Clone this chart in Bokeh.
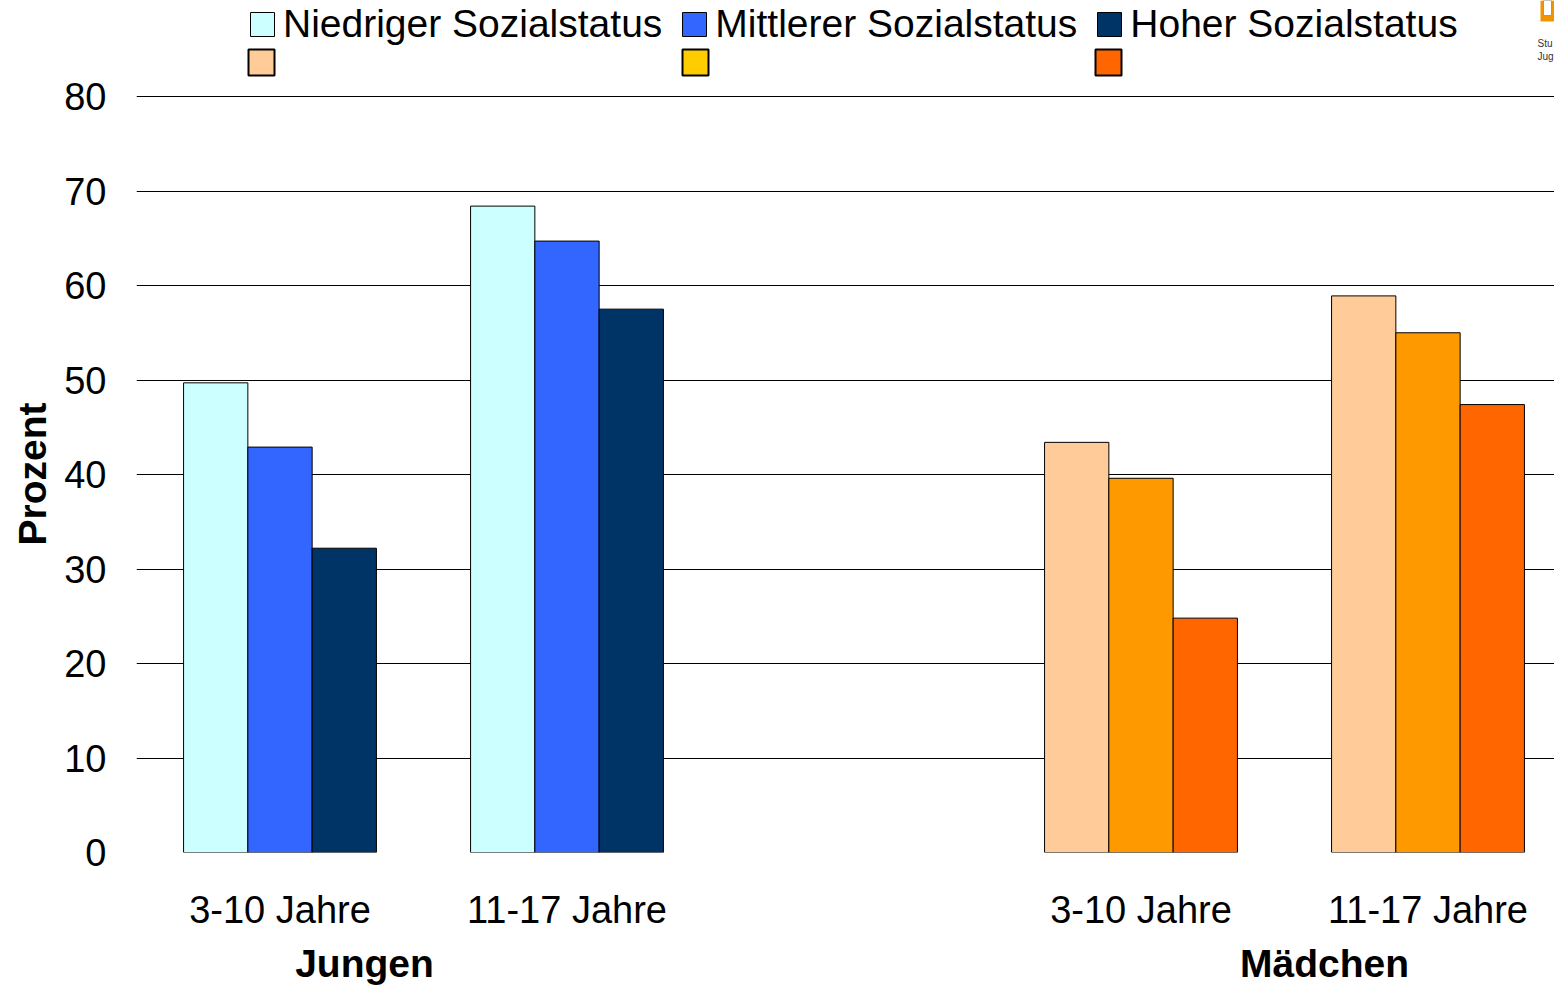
from bokeh.plotting import figure
from bokeh.models import (ColumnDataSource, FixedTicker, Legend, LegendItem, Label,
                          Range1d, LinearAxis, Title)
from bokeh.transform import dodge
from bokeh.embed import file_html
from bokeh.resources import INLINE

# ---------------- data ----------------
age_labels = ["3-10 Jahre", "11-17 Jahre"]
gender_labels = ["Jungen", "Mädchen"]
status_labels = ["Niedriger Sozialstatus", "Mittlerer Sozialstatus", "Hoher Sozialstatus"]

jungen_niedrig = [49.7, 68.4]
jungen_mittel = [42.9, 64.7]
jungen_hoch = [32.2, 57.5]
maedchen_niedrig = [43.4, 58.9]
maedchen_mittel = [39.6, 55.0]
maedchen_hoch = [24.8, 47.4]

jungen_colors = ["#CCFFFF", "#3366FF", "#003366"]
maedchen_colors = ["#FFCC99", "#FF9900", "#FF6600"]
legend_row2_colors = ["#FFCC99", "#FFCC00", "#FF6600"]

y_ticks = [0, 10, 20, 30, 40, 50, 60, 70, 80]

# ---------------- layout ----------------
FONT = "Liberation Sans"
W, H = 1554, 987
FRAME_LEFT, FRAME_BOTTOM = 136, 135
frame_w = W - FRAME_LEFT
frame_h = H - FRAME_BOTTOM
px_per_unit = 9.45
slot_px = 287.0
x_start = -0.5
x_end = x_start + frame_w / slot_px
y_end = frame_h / px_per_unit
bar_w = 0.224


def xd(px):
    return x_start + (px - FRAME_LEFT) / slot_px


def yd(py):
    return (frame_h - py) / px_per_unit


p = figure(width=W, height=H, x_range=Range1d(x_start, x_end), y_range=Range1d(0, y_end),
           min_border_left=FRAME_LEFT, min_border_right=0, min_border_top=0,
           min_border_bottom=FRAME_BOTTOM, toolbar_location=None, output_backend="svg")
p.outline_line_color = None
p.background_fill_color = "white"
p.border_fill_color = "white"

# slot positions: gender groups separated by one empty slot
jungen_x = [0 * 3 + a for a in range(len(age_labels))]
maedchen_x = [1 * 3 + a for a in range(len(age_labels))]

jungen_series = [jungen_niedrig, jungen_mittel, jungen_hoch]
maedchen_series = [maedchen_niedrig, maedchen_mittel, maedchen_hoch]
offsets = [-bar_w, 0.0, bar_w]

boy_renderers = []
for i in range(3):
    src = ColumnDataSource(dict(x=jungen_x, top=jungen_series[i]))
    r = p.vbar(x=dodge("x", offsets[i], range=p.x_range), top="top", width=bar_w, source=src,
               fill_color=jungen_colors[i], line_color="black", line_width=1)
    boy_renderers.append(r)
for i in range(3):
    src = ColumnDataSource(dict(x=maedchen_x, top=maedchen_series[i]))
    p.vbar(x=dodge("x", offsets[i], range=p.x_range), top="top", width=bar_w, source=src,
           fill_color=maedchen_colors[i], line_color="black", line_width=1)

# ---------------- axes & grid ----------------
p.xgrid.visible = False
p.ygrid.ticker = FixedTicker(ticks=y_ticks)
p.ygrid.grid_line_color = "black"
p.ygrid.grid_line_width = 1

p.yaxis.ticker = FixedTicker(ticks=y_ticks)
p.yaxis.axis_line_color = None
p.yaxis.major_tick_line_color = None
p.yaxis.minor_tick_line_color = None
p.yaxis.major_tick_in = 0
p.yaxis.major_tick_out = 0
p.yaxis.major_label_standoff = 30
p.yaxis.major_label_text_font = FONT
p.yaxis.major_label_text_font_size = "38px"
p.yaxis.major_label_text_color = "black"

all_x = jungen_x + maedchen_x
p.xaxis.ticker = FixedTicker(ticks=all_x)
p.xaxis.major_label_overrides = {float(x): age_labels[k % 2] for k, x in enumerate(all_x)}
for ax in [p.xaxis[0]]:
    ax.axis_line_color = None
    ax.major_tick_line_color = None
    ax.minor_tick_line_color = None
    ax.major_tick_in = 0
    ax.major_tick_out = 0
    ax.major_label_standoff = 36
    ax.major_label_text_font = FONT
    ax.major_label_text_font_size = "38px"
    ax.major_label_text_color = "black"

# group labels (second axis below)
group_x = [xd(364), xd(1324)]
gaxis = LinearAxis(ticker=FixedTicker(ticks=group_x),
                   major_label_overrides={float(gx): g for gx, g in zip(group_x, gender_labels)},
                   axis_line_color=None, major_tick_line_color=None, minor_tick_line_color=None,
                   major_tick_in=0, major_tick_out=0, major_label_standoff=8,
                   major_label_text_font=FONT, major_label_text_font_size="39px",
                   major_label_text_font_style="bold", major_label_text_color="black")
p.add_layout(gaxis, "below")

# y axis title
p.add_layout(Title(text="Prozent", align="left", offset=307, standoff=16,
                   text_font=FONT, text_font_size="39px", text_font_style="bold",
                   text_color="black"), "left")

# ---------------- legends ----------------
leg1 = Legend(items=[LegendItem(label=status_labels[i], renderers=[boy_renderers[i]])
                     for i in range(3)],
              orientation="horizontal", padding=0, margin=0, border_line_color=None,
              background_fill_alpha=0, label_text_font=FONT, label_text_font_size="39px",
              label_text_color="black", location=(111, 806), glyph_width=30, glyph_height=30,
              label_standoff=6, spacing=17)
p.add_layout(leg1)

# second legend row: swatches without labels (aligned under first-row swatches)
row2_left = [248, 682, 1095]
sw = 26
p.quad(left=[xd(v) for v in row2_left], right=[xd(v + sw) for v in row2_left],
       top=[yd(49)] * 3, bottom=[yd(49 + sw)] * 3,
       fill_color=legend_row2_colors, line_color="black", line_width=2)

# ---------------- logo fragment (top right) ----------------
p.quad(left=[xd(1540)], right=[x_end], bottom=[yd(21)], top=[y_end],
       fill_color="#F29400", line_color=None)
p.quad(left=[xd(1543)], right=[xd(1551)], bottom=[yd(15)], top=[y_end],
       fill_color="white", line_color="#999999", line_width=1)
p.add_layout(Label(x=xd(1537), y=yd(43), text="Stu", text_align="left", text_baseline="middle",
                   text_font=FONT, text_font_size="10px", text_color="#333333"))
p.add_layout(Label(x=xd(1537), y=yd(56), text="Jug", text_align="left", text_baseline="middle",
                   text_font=FONT, text_font_size="10px", text_color="#333333"))

open("out.html", "w").write(file_html(p, INLINE))
